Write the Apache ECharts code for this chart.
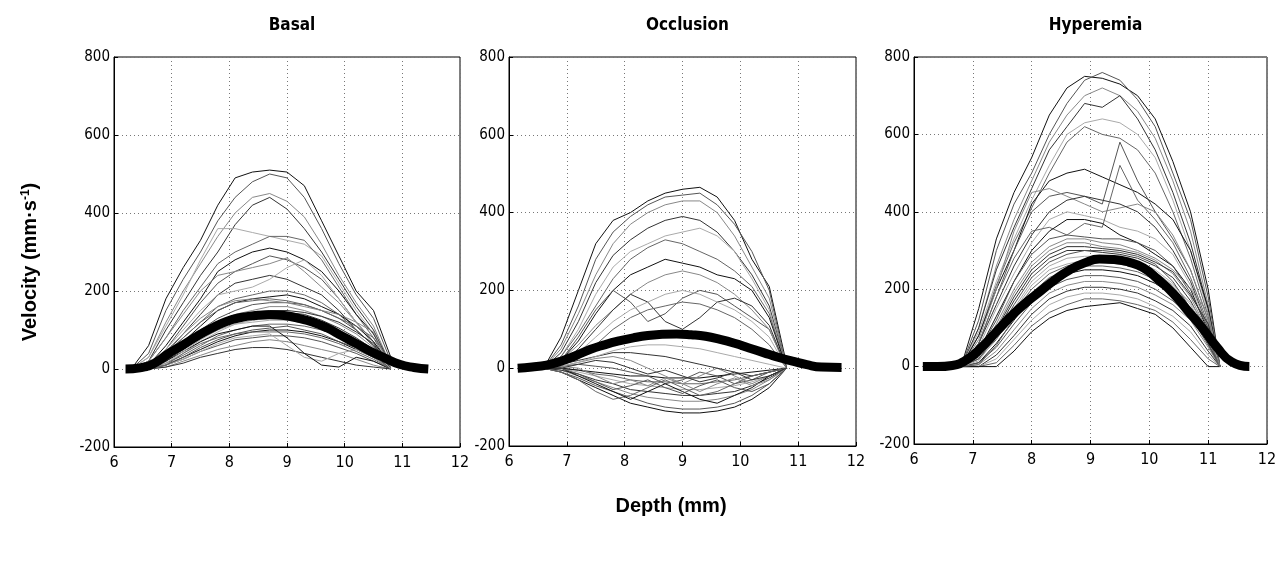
<!DOCTYPE html>
<html><head><meta charset="utf-8">
<script src="https://cdn.jsdelivr.net/npm/echarts@6/dist/echarts.min.js"></script>
<style>html,body{margin:0;padding:0;background:#fff}#c{width:1283px;height:572px}</style>
</head><body><div id="c"></div>
<script>
// ---- DATA ----
const panelTitles = ['Basal', 'Occlusion', 'Hyperemia'];
const xTicks = [6, 7, 8, 9, 10, 11, 12];
const yTicks = [-200, 0, 200, 400, 600, 800];

// Basal: individual profiles
const basalDepth = [6.3, 6.6, 6.9, 7.2, 7.5, 7.8, 8.1, 8.4, 8.7, 9.0, 9.3, 9.6, 9.9, 10.2, 10.5, 10.8];
const basalProfiles = [
  [0,60,180,260,330,420,490,505,510,505,470,380,290,200,150,30],
  [0,40,150,230,300,380,440,480,500,490,440,360,270,190,130,20],
  [0,30,120,200,270,340,400,440,450,430,390,320,240,170,110,10],
  [0,20,100,170,240,300,370,420,440,410,360,300,230,160,100,10],
  [0,30,110,190,280,360,360,350,340,330,320,290,220,150,90,0],
  [0,20,80,150,210,270,300,320,340,340,330,280,210,140,80,0],
  [0,10,60,120,180,250,280,300,310,300,280,250,200,140,90,10],
  [0,10,50,110,170,220,250,270,290,280,260,230,180,120,70,0],
  [0,20,80,140,200,240,250,260,270,285,250,210,170,120,70,0],
  [0,10,40,90,140,190,220,230,240,230,210,190,150,100,60,0],
  [0,10,50,100,150,190,200,210,230,260,280,240,180,120,60,0],
  [0,5,40,80,120,160,180,190,200,200,190,170,140,100,60,0],
  [0,5,30,70,110,150,170,180,185,190,180,160,140,110,70,10],
  [0,5,30,65,100,130,150,165,170,170,165,150,130,100,60,10],
  [0,5,25,55,90,120,140,150,160,160,150,135,115,90,55,5],
  [0,0,20,50,80,105,125,140,145,145,140,125,105,80,50,5],
  [0,0,15,40,70,95,115,125,130,130,125,110,95,70,45,5],
  [0,0,15,35,60,85,100,110,115,115,110,100,85,60,40,0],
  [0,0,10,30,50,70,85,95,100,100,95,85,70,50,30,0],
  [0,0,10,25,45,60,75,80,85,85,80,70,55,40,20,0],
  [0,0,5,20,35,50,60,70,75,70,60,50,40,25,10,0],
  [0,0,5,15,30,40,50,55,55,50,40,30,20,10,5,0],
  [0,0,10,25,45,65,80,85,90,60,30,20,40,50,30,0],
  [0,10,40,80,120,150,170,175,180,175,165,150,130,110,80,20],
  [0,5,20,45,70,90,100,110,110,80,40,10,5,30,20,0],
  [0,0,10,30,55,75,90,100,105,110,100,90,70,55,35,0],
  [0,10,45,90,130,160,175,180,175,170,160,150,140,120,95,0],
  [0,0,20,60,95,120,135,145,150,150,145,135,120,95,65,0],
  [0,0,15,45,75,100,115,120,125,125,120,110,95,75,50,0],
  [0,0,10,40,65,80,90,95,95,95,90,80,65,45,25,0]
];
const basalMeanDepth = [6.2,6.45,6.7,6.95,7.2,7.45,7.7,7.95,8.2,8.45,8.7,8.95,9.2,9.45,9.7,9.95,10.2,10.45,10.7,10.95,11.2,11.45];
const basalMean = [0,3,15,40,62,85,105,122,132,137,139,137,130,120,105,85,65,45,28,12,4,0];

// Occlusion
const occlDepth = [6.6, 6.9, 7.2, 7.5, 7.8, 8.1, 8.4, 8.7, 9.0, 9.3, 9.6, 9.9, 10.2, 10.5, 10.8];
const occlProfiles = [
  [0,80,200,320,380,400,430,450,460,465,440,380,280,210,10],
  [0,60,160,280,350,390,420,440,445,450,420,370,300,200,0],
  [0,50,140,240,320,370,400,420,430,430,400,340,260,180,0],
  [0,40,120,220,290,330,360,380,390,380,350,300,240,160,0],
  [0,30,100,190,260,300,320,340,350,360,340,300,230,150,0],
  [0,30,90,160,230,280,310,330,320,300,280,250,210,140,0],
  [0,20,70,140,200,240,260,280,270,260,240,230,200,130,0],
  [0,20,80,150,200,170,120,140,180,200,190,160,130,100,0],
  [0,20,60,110,150,190,220,240,250,240,220,190,150,100,0],
  [0,10,50,100,150,190,170,120,100,130,170,180,160,110,0],
  [0,10,40,80,120,150,170,190,200,190,170,150,120,80,0],
  [0,10,30,60,100,130,150,160,170,165,150,130,100,60,0],
  [0,-10,-30,-50,-70,-90,-100,-110,-115,-115,-110,-100,-80,-50,0],
  [0,-10,-25,-45,-60,-75,-90,-100,-105,-105,-100,-90,-70,-40,0],
  [0,-5,-20,-35,-50,-65,-75,-80,-85,-85,-80,-70,-55,-30,0],
  [0,-5,-15,-30,-40,-55,-60,-65,-70,-70,-65,-60,-45,-25,0],
  [0,0,-10,-20,-30,-40,-45,-50,-55,-55,-50,-45,-35,-20,0],
  [0,0,-5,-15,-20,-30,-35,-35,-40,-40,-35,-30,-20,-10,0],
  [0,0,-5,-10,-15,-20,-20,-25,-25,-25,-20,-15,-10,-5,0],
  [0,5,10,5,0,-10,-20,-40,-30,-10,-20,-40,-30,-10,0],
  [0,5,15,25,30,20,0,-20,-40,-20,0,-20,-40,-20,0],
  [0,10,20,30,40,40,35,30,20,10,0,-10,-20,-10,0],
  [0,5,15,30,45,55,60,60,55,50,40,30,20,10,0],
  [0,-10,-30,-60,-80,-70,-50,-30,-50,-70,-60,-40,-20,-10,0],
  [0,0,-20,-40,-60,-80,-60,-40,-60,-80,-90,-70,-50,-20,0],
  [0,0,-15,-35,-55,-45,-30,-50,-65,-45,-30,-50,-60,-40,0],
  [0,5,0,-20,-40,-30,-45,-25,-40,-60,-40,-25,-45,-30,0],
  [0,0,10,20,15,0,-15,-5,-20,-35,-25,-10,-30,-20,0]
];
const occlMeanDepth = [6.15,6.4,6.65,6.9,7.15,7.4,7.65,7.9,8.15,8.4,8.65,8.9,9.15,9.4,9.65,9.9,10.15,10.4,10.65,10.9,11.15,11.4,11.75];
const occlMean = [0,3,8,18,32,48,60,70,78,84,87,88,86,82,74,64,52,40,28,18,9,3,2];

// Hyperemia
const hypDepth = [6.8, 7.1, 7.4, 7.7, 8.0, 8.3, 8.6, 8.9, 9.2, 9.5, 9.8, 10.1, 10.4, 10.7, 11.0, 11.2];
const hypProfiles = [
  [0,150,330,450,540,650,720,750,745,730,700,640,530,400,200,0],
  [0,120,300,420,500,600,680,740,760,740,690,620,500,380,180,0],
  [0,100,260,380,480,580,650,700,720,700,660,590,480,350,160,0],
  [0,100,250,360,460,560,620,680,670,700,640,560,450,320,150,0],
  [0,90,220,330,430,520,600,630,640,630,600,540,430,300,140,0],
  [0,80,210,320,410,500,580,620,600,590,560,500,400,280,130,0],
  [0,80,200,300,420,480,500,510,490,470,450,420,380,300,150,0],
  [0,60,180,300,400,440,450,440,420,580,480,400,330,250,120,0],
  [0,70,200,350,450,460,440,420,400,410,420,400,340,250,120,0],
  [0,60,160,260,340,400,430,440,430,420,400,360,300,220,100,0],
  [0,50,150,240,320,380,400,390,380,360,350,330,290,210,100,0],
  [0,60,180,280,350,360,340,370,360,520,430,380,320,230,110,0],
  [0,40,130,220,300,350,380,380,370,340,320,290,260,200,90,0],
  [0,40,120,220,290,330,340,335,330,330,320,300,260,190,100,0],
  [0,30,100,190,260,300,320,320,310,305,295,275,240,180,90,0],
  [0,30,90,170,240,280,300,300,295,290,280,260,230,170,85,0],
  [0,20,80,150,220,260,280,285,285,280,270,250,215,160,80,0],
  [0,20,70,140,200,240,260,270,270,265,255,235,200,150,70,0],
  [0,10,60,120,180,220,240,250,250,245,235,215,185,140,60,0],
  [0,10,50,110,165,205,225,235,235,230,220,200,170,130,55,0],
  [0,5,40,95,150,190,210,220,220,215,205,185,160,120,50,0],
  [0,0,30,80,135,175,195,205,205,200,190,170,145,105,40,0],
  [0,0,20,70,120,160,180,190,190,185,175,155,130,90,30,0],
  [0,0,10,55,105,140,160,175,175,170,160,145,115,70,20,0],
  [0,0,0,40,90,125,145,155,160,165,150,135,100,50,0,0],
  [0,20,80,160,230,270,290,300,300,295,285,265,220,150,60,0],
  [0,30,110,200,270,310,330,330,320,315,300,280,250,200,140,0],
  [0,25,95,180,250,290,310,310,305,300,290,270,245,185,110,0],
  [0,15,75,145,210,250,265,275,280,275,265,245,210,165,95,0],
  [0,5,55,125,190,230,250,260,260,255,245,225,195,150,75,0]
];
const hypMeanDepth = [6.15,6.4,6.65,6.9,7.15,7.4,7.65,7.9,8.15,8.4,8.65,8.9,9.15,9.4,9.65,9.9,10.15,10.4,10.65,10.9,11.15,11.4,11.7];
const hypMean = [0,0,3,18,50,90,130,165,195,225,250,268,278,277,270,255,225,190,145,100,50,12,0];

// ---- CHART ----
const panels = [
  {depth: basalDepth, profiles: basalProfiles, mDepth: basalMeanDepth, mean: basalMean},
  {depth: occlDepth, profiles: occlProfiles, mDepth: occlMeanDepth, mean: occlMean},
  {depth: hypDepth, profiles: hypProfiles, mDepth: hypMeanDepth, mean: hypMean}
];
const gridPos = [
  {left: 114, top: 57, width: 346, height: 390},
  {left: 509, top: 57, width: 347, height: 389},
  {left: 914, top: 57, width: 353, height: 387}
];
const narrow = '"Liberation Sans Narrow", "DejaVu Sans Condensed", "Arial Narrow", sans-serif';
const greys = ['#111', '#555', '#888', '#333', '#aaa', '#666'];

const grids = [], xAxes = [], yAxes = [], series = [], titles = [];
panels.forEach((p, i) => {
  grids.push(Object.assign({show: true, borderColor: '#000', borderWidth: 1, backgroundColor: '#fff'}, gridPos[i]));
  titles.push({
    text: panelTitles[i],
    left: gridPos[i].left + gridPos[i].width / 2, top: 12, textAlign: 'center',
    textStyle: {fontFamily: narrow, fontWeight: 'bold', fontSize: 17, color: '#000'}
  });
  xAxes.push({
    type: 'value', gridIndex: i, min: xTicks[0], max: xTicks[xTicks.length - 1], interval: 1,
    axisLine: {show: true, onZero: false, lineStyle: {color: '#000'}},
    axisTick: {show: true, inside: true, length: 4, lineStyle: {color: '#000'}},
    axisLabel: {color: '#000', fontFamily: narrow, fontSize: 16, margin: 8},
    splitLine: {show: true, lineStyle: {color: '#777', type: [1, 3], width: 1}}
  });
  yAxes.push({
    type: 'value', gridIndex: i, min: yTicks[0], max: yTicks[yTicks.length - 1], interval: 200,
    axisLine: {show: true, onZero: false, lineStyle: {color: '#000'}},
    axisTick: {show: true, inside: true, length: 4, lineStyle: {color: '#000'}},
    axisLabel: {color: '#000', fontFamily: narrow, fontSize: 15, margin: 4},
    splitLine: {show: true, lineStyle: {color: '#777', type: [1, 3], width: 1}}
  });
  p.profiles.forEach((vals, k) => {
    series.push({
      type: 'line', xAxisIndex: i, yAxisIndex: i, symbol: 'none', silent: true,
      data: vals.map((v, j) => [p.depth[j], v]),
      lineStyle: {color: greys[k % greys.length], width: 1}, z: 2
    });
  });
  series.push({
    type: 'line', xAxisIndex: i, yAxisIndex: i, symbol: 'none', smooth: true, silent: true,
    data: p.mean.map((v, j) => [p.mDepth[j], v]),
    lineStyle: {color: '#000', width: 9, cap: 'butt'}, z: 5
  });
});

const chart = echarts.init(document.getElementById('c'), null, {renderer: 'canvas'});
chart.setOption({
  animation: false,
  backgroundColor: '#fff',
  title: titles,
  grid: grids, xAxis: xAxes, yAxis: yAxes, series: series,
  graphic: [
    {
      type: 'text', x: 30, y: 262, rotation: Math.PI / 2,
      style: {
        text: '{a|Velocity (mm·s}{b|-1}{a|)}',
        align: 'center', verticalAlign: 'middle',
        rich: {
          a: {fontFamily: '"Liberation Sans", Arial, sans-serif', fontWeight: 'bold', fontSize: 20, fill: '#000', color: '#000'},
          b: {fontFamily: '"Liberation Sans", Arial, sans-serif', fontWeight: 'bold', fontSize: 12, fill: '#000', color: '#000', verticalAlign: 'top', lineHeight: 20, padding: [0, 0, 9, 0]}
        }
      }
    },
    {
      type: 'text', x: 671, y: 506,
      style: {
        text: 'Depth (mm)', align: 'center', verticalAlign: 'middle',
        font: 'bold 20px "Liberation Sans", Arial, sans-serif', fill: '#000'
      }
    }
  ]
});
</script></body></html>
